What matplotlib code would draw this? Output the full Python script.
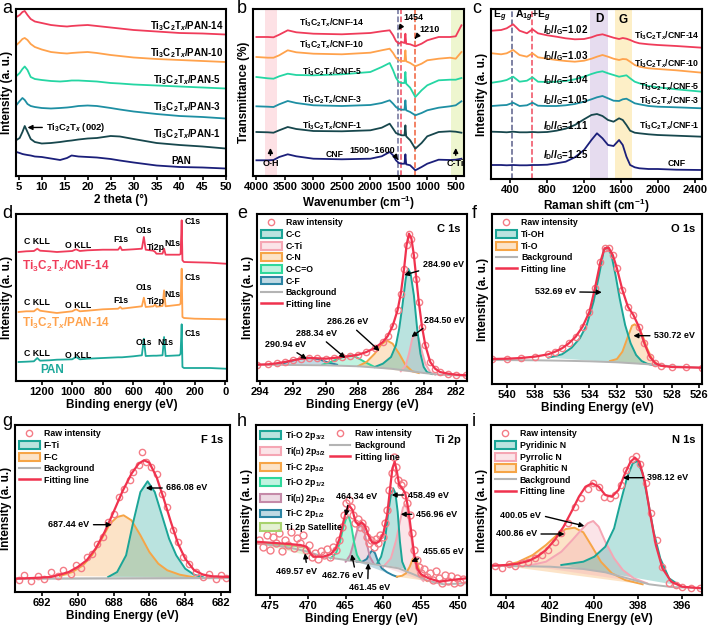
# %%
import matplotlib
matplotlib.use('Agg')
import matplotlib.pyplot as plt
from matplotlib.patches import Patch
from matplotlib.lines import Line2D
from matplotlib.colors import to_rgba

plt.rcParams['font.family'] = ['Liberation Sans', 'DejaVu Sans']
plt.rcParams['font.weight'] = 'bold'
plt.rcParams['axes.labelweight'] = 'bold'
plt.rcParams['mathtext.fontset'] = 'custom'
plt.rcParams['mathtext.rm'] = 'Liberation Sans:bold'
plt.rcParams['mathtext.it'] = 'Liberation Sans:bold:italic'
plt.rcParams['mathtext.bf'] = 'Liberation Sans:bold'

TI = r'Ti$_3$C$_2$T$_x$'

# %% data (intensities in arbitrary units)
# a: XRD
a_x = [4.5, 5.2, 5.8, 6.3, 6.9, 7.6, 8.5, 10, 12, 14, 15.5, 16.5, 18, 20, 22, 25, 27, 30, 35, 40, 45, 50]
a_pan = [24, 23, 22, 21.5, 21, 20.5, 19.5, 19, 17.5, 16, 18, 20.5, 19.5, 19, 18.5, 17, 15.5, 13.5, 10.5, 9, 8.5, 7.5]
a_pan1 = [36, 38, 44, 50, 44, 37, 34, 32.5, 33, 34, 35, 35.5, 36.5, 37.5, 38, 40, 39.5, 37, 33, 31, 29.5, 27.5]
a_pan3 = [71, 75, 78, 76, 72, 70, 69, 68, 67.5, 68, 68.5, 69, 70, 70.5, 70, 68, 66.5, 64.5, 62, 60, 59, 57.5]
a_pan5 = [100, 103, 107, 109.5, 106, 99, 97, 96, 95, 94.5, 95, 95.5, 95.5, 95, 94.5, 93, 92.5, 91.5, 90.5, 89.5, 88.5, 87.5]
a_pan10 = [131, 134, 137, 138, 136, 132, 129, 126.5, 124, 123, 122.5, 123, 123.5, 124, 123, 121, 120, 118.5, 117, 116, 115, 114]
a_pan14 = [159, 161, 164, 165, 161, 157, 154.5, 153, 151, 150, 149.5, 150, 150.5, 151, 150, 148.5, 147.5, 146, 144.5, 143, 142.5, 141.5]
a_names = [TI + '/PAN-14', TI + '/PAN-10', TI + '/PAN-5', TI + '/PAN-3', TI + '/PAN-1', 'PAN']

# b: FTIR
b_x = [4000, 3800, 3700, 3600, 3450, 3300, 3000, 2500, 2000, 1800, 1660, 1600, 1550, 1500, 1450, 1400, 1384, 1370,
       1300, 1210, 1100, 1000, 800, 600, 500, 400]
b_cnf = [15.7, 15.7, 16, 19, 21.7, 19.7, 17.3, 16.7, 17.3, 19.7, 24, 20.7, 15.7, 13, 12.3, 12.3, 21.7, 11.7, 10.7, 5.7,
         9, 12.3, 16.3, 16, 16.3, 17.3]
b_cnf1 = [44, 43.7, 43.3, 45.7, 49, 47, 45, 44.7, 45.7, 48.3, 52.3, 47.3, 43, 41.7, 40.7, 40.7, 50.7, 39.7, 35.7, 27.3,
          33, 39.7, 44, 44.7, 44.3, 43.3]
b_cnf3 = [69.7, 69.3, 69, 71.7, 75, 73, 70.7, 70, 71, 73, 75.7, 72.3, 69, 67, 66.3, 66.3, 75.7, 65.7, 64, 60.7,
          63, 65.7, 68.3, 69.7, 70.7, 74.7]
b_cnf5 = [99, 97.7, 97.3, 99.7, 102.3, 101, 100.7, 101.7, 104, 109, 113, 105.7, 98.3, 94, 93, 93, 104, 92.3, 88.3, 79,
          85.7, 90.7, 95.7, 96.3, 96.3, 98]
b_cnf10 = [119, 118.3, 118.3, 120.7, 125.7, 123.7, 122.3, 121.7, 123.3, 125.7, 127.3, 123, 118.3, 115.7, 115, 115,
           125.7, 114.7, 113, 109.7, 112.3, 115.7, 117.3, 118.3, 117.3, 124]
b_cnf14 = [139, 139, 138.7, 141.3, 145.7, 143.7, 142.3, 141.7, 143, 144.7, 145.7, 140.7, 135, 132.3, 134, 133, 142.3,
           132.3, 131.7, 129.7, 132.3, 135.7, 139, 139, 139.7, 150.7]
cnf_names = [TI + '/CNF-14', TI + '/CNF-10', TI + '/CNF-5', TI + '/CNF-3', TI + '/CNF-1', 'CNF']

# c: Raman
c_x = [200, 300, 360, 430, 500, 580, 640, 700, 800, 900, 1000, 1100, 1200, 1280, 1340, 1400, 1460, 1520, 1580, 1620,
       1660, 1700, 1750, 1800, 1900, 2000, 2200, 2480]
c_cnf = [14, 14, 13.7, 14, 13.7, 13.7, 14, 14, 14.3, 15.7, 17.3, 21.7, 29, 39, 45.7, 40.7, 34, 33, 39, 34,
         22.3, 14, 11.7, 10.7, 10, 10, 9.3, 9]
c_cnf1 = [47.3, 47, 46.7, 47.3, 46.7, 46.7, 47, 46.7, 47, 48.3, 50.3, 54, 59.7, 64, 65, 63, 59, 57.3, 60.7, 59,
          54, 48.3, 46.3, 45.7, 44.7, 44, 43.3, 42.3]
c_cnf3 = [73, 73.7, 74, 76.3, 73, 73.7, 76.3, 73.3, 73, 73, 73.7, 75, 77.3, 79.7, 81.7, 83, 80.7, 78.3, 78, 79.7,
          80.3, 78.3, 75.7, 74.7, 73, 72.3, 71.7, 70.7]
c_cnf5 = [96.3, 97.7, 99, 102.3, 97.3, 98.3, 101.7, 97.3, 97, 97.3, 98, 99.7, 102.3, 105, 106.7, 107.7, 105.7, 104,
          102.3, 103, 103.7, 100.7, 97.3, 95.7, 93, 91.7, 89.7, 87.3]
c_cnf10 = [125.7, 124.7, 125.7, 129, 124, 122.3, 125.7, 121.7, 120.3, 119, 118, 117.3, 118.3, 120.3, 122.3, 124,
           122.3, 120.3, 119, 120, 119.7, 117.3, 114, 112.3, 110.7, 110, 108.7, 106.3]
c_cnf14 = [148.3, 149, 150.7, 154.7, 148.3, 145.7, 149.7, 145.7, 143.7, 142.3, 140.7, 139.7, 140, 141.7, 143.7,
           144.7, 143, 141.3, 140, 141, 140.3, 139, 137, 135.7, 134.7, 134, 133, 131.3]
c_ratios = ['1.02', '1.03', '1.04', '1.05', '1.11', '1.25']

# d: XPS survey
d_x = [1350, 1300, 1250, 1228, 1210, 1150, 1100, 1000, 975, 950, 900, 800, 700, 686, 675, 600, 545, 532, 520, 470,
       458, 450, 410, 400, 390, 300, 292, 285, 280, 270, 200, 100, 0]
d_pan = [19, 19.3, 19.7, 23, 20.3, 20.7, 21.3, 21.7, 24, 21.7, 22.3, 23, 23.7, 23.7, 23.7, 24.7, 25.7, 42.3, 25, 25.3,
         25.3, 25.3, 25.7, 44, 25, 25.7, 27.3, 56.7, 14, 13, 13, 13, 12.3]
d_pan14 = [69, 69.7, 69.7, 72.3, 70.3, 69, 68, 69.7, 71.7, 69.7, 70.3, 71.7, 72.3, 74, 72.3, 73.7, 74.7, 83.3, 74, 74.7,
           76.7, 74.3, 75, 90.7, 74.7, 76.3, 77.3, 112.3, 64, 63, 62.3, 62, 61.7]
d_cnf14 = [129, 129.7, 130, 132.3, 130.3, 129.7, 129, 130, 131.7, 130, 130.7, 131.3, 131.3, 134.3, 131, 131.7, 132.3,
           144, 131.3, 130.3, 129, 127.3, 127.3, 132.3, 126.3, 126.3, 127, 160.7, 120.7, 119, 118.7, 118.3, 117.3]

# e: C 1s
e_x = [294.2, 293.5, 293, 292.5, 292, 291.5, 291, 290.5, 290, 289.5, 289, 288.5, 288, 287.5, 287, 286.5, 286.2, 285.9,
       285.6, 285.4, 285.2, 285.05, 284.9, 284.75, 284.6, 284.45, 284.3, 284.1, 283.9, 283.6, 283.3, 283, 282.5, 282, 281.4]
e_fit = [16.3, 16.7, 17.7, 19, 20.7, 22.3, 23, 22.7, 22.3, 23, 24, 25, 26.3, 29, 33, 39, 45, 55, 70.7, 87.3,
         112.3, 135.7, 147.3, 142.3, 125.7, 102.3, 79, 54, 35.7, 19, 12.3, 9, 7.3, 6.3, 5.7]
e_bg_x = [294.2, 292, 290, 288, 286, 285, 284, 283, 282, 281.4]
e_bg = [16.3, 16, 15.7, 14.7, 12.3, 10.3, 8, 6.3, 5.7, 5.3]
e_cc_x = [287, 286.5, 286, 285.7, 285.5, 285.3, 285.1, 284.95, 284.8, 284.6, 284.4, 284.2, 284, 283.8, 283.5]
e_cc = [14, 17.3, 24, 35.7, 52.3, 75.7, 102.3, 112.3, 107.3, 85.7, 52.3, 27.3, 14, 9, 7]
e_cti_x = [285.4, 285.1, 284.9, 284.7, 284.5, 284.3, 284.1, 283.9, 283.6, 283.3]
e_cti = [9.7, 15.7, 27.3, 42.3, 48.3, 42.3, 29, 17.3, 9, 6.3]
e_cn_x = [288, 287.5, 287, 286.6, 286.26, 285.9, 285.5, 285.1, 284.7, 284.3]
e_cn = [15, 19, 27.3, 36.3, 40.7, 37.3, 27.3, 15.7, 9.7, 8]
e_oco_x = [290.2, 289.6, 289, 288.5, 288.1, 287.6, 287]
e_oco = [16.3, 19.7, 23.7, 25.7, 23.7, 19, 14]
e_cf_x = [292.8, 292.2, 291.6, 291, 290.4, 289.8, 289.3]
e_cf = [16.7, 19.7, 22.3, 23.3, 21.7, 18.3, 16.3]

# f: O 1s
f_x = [541.1, 540, 539, 538, 537, 536.5, 536, 535.5, 535, 534.5, 534, 533.6, 533.2, 532.9, 532.6, 532.3, 532, 531.6,
       531.2, 530.8, 530.4, 530, 529.6, 529.2, 528.8, 528, 527, 525.8]
f_fit = [25, 25.3, 26, 27.3, 29.7, 32.3, 35.7, 40.7, 47.3, 57.3, 72.3, 95.7, 122.3, 135.7, 136.3, 129, 115.7, 94,
         77.3, 69, 57.3, 40.7, 27.3, 20.7, 18.3, 17, 16.7, 16.3]
f_bg_x = [541.1, 538, 536, 534, 532, 530, 528, 525.8]
f_bg = [24, 23.7, 23.3, 22.7, 21.7, 20, 17.7, 16.3]
f_oh_x = [537, 536, 535.3, 534.7, 534.2, 533.7, 533.3, 532.95, 532.7, 532.4, 532.1, 531.8, 531.4, 531, 530.6, 530.2,
          529.8, 529.4]
f_oh = [26.3, 29.7, 36.3, 45.7, 59, 82.3, 109, 134, 137.3, 129, 109, 85.7, 59, 40.7, 29, 23, 20.3, 19]
f_tio_x = [532.5, 532, 531.6, 531.2, 530.9, 530.7, 530.4, 530.1, 529.8, 529.4, 529, 528.5]
f_tio = [23, 25, 32.3, 47.3, 58.3, 59.7, 56.3, 47.3, 35.7, 24, 19, 17.3]

# g: F 1s
g_x = [693.5, 692.5, 691.5, 691, 690.5, 690, 689.5, 689, 688.5, 688, 687.5, 687, 686.6, 686.3, 686, 685.6, 685.2,
       684.8, 684.4, 684, 683.5, 683, 682.5, 681.5]
g_fit = [13.3, 14, 15, 17.3, 20, 25, 31.7, 43.3, 60, 80, 100.7, 118.3, 128.3, 131.7, 129.3, 115, 93.3, 70, 48.3,
         33.3, 21.7, 17.3, 15.7, 15]
g_bg_x = [693.5, 681.5]
g_bg = [13.3, 14]
g_fti_x = [688.3, 687.8, 687.3, 686.9, 686.5, 686.1, 685.7, 685.3, 684.9, 684.5, 684, 683.5, 683]
g_fti = [15, 20, 36.7, 70, 100, 110.7, 100, 76.7, 53.3, 36.7, 23.3, 17.3, 14.7]
g_fc_x = [691, 690.3, 689.7, 689.2, 688.7, 688.2, 687.8, 687.44, 687, 686.5, 686, 685.5, 685, 684.3, 683.5]
g_fc = [16, 20, 26.7, 36.7, 51.7, 68.3, 75, 76.7, 71.7, 56.7, 40, 28.3, 21.7, 17.3, 14.7]
g_raw_x = [693.3, 693, 692.6, 692.2, 691.9, 691.5, 691.1, 690.8, 690.4, 690.1, 689.8, 689.5, 689.2, 688.9, 688.6,
           688.3, 688, 687.7, 687.4, 687.1, 686.9, 686.6, 686.4, 686.2, 685.9, 685.6, 685.3, 685, 684.7, 684.4,
           684.1, 683.8, 683.4, 683, 682.7, 682.3, 682, 681.7, 681.4]
g_raw = [12, 17, 11, 16, 13, 20, 16, 22, 18, 27, 24, 35, 38, 48, 55, 70, 78, 95, 103, 112, 120, 127, 140, 130, 125,
         118, 98, 85, 62, 50, 35, 28, 20, 15, 18, 13, 17, 14, 16]

# h: Ti 2p
h_x = [476.9, 475, 473, 471, 470.2, 469.7, 469.3, 468, 467, 466.3, 465.8, 465.3, 464.9, 464.5, 464.1, 463.7, 463.3,
       462.9, 462.5, 462, 461.5, 461, 460.5, 460, 459.5, 459.1, 458.8, 458.5, 458.2, 457.9, 457.5, 457.1, 456.7,
       456.3, 455.9, 455.5, 455, 454, 452.5, 451, 449]
h_fit = [53.3, 52.3, 51.3, 50, 48.3, 41.7, 38.3, 38.3, 40.7, 46.7, 56.7, 73.3, 85, 89.3, 85, 73.3, 70, 72.7, 70, 60,
         52.7, 51.7, 54, 61.7, 80, 106.7, 126.7, 133.3, 123.3, 110, 106.7, 101.7, 86.7, 63.3, 40, 26.7, 20.7, 16.7,
         13.3, 15, 16.7]
h_bg_x = [476.9, 473, 470, 468, 465, 462, 460, 458, 456, 454, 452, 449]
h_bg = [51.7, 48.3, 43.3, 38.3, 35, 31.7, 29.3, 26.7, 20.7, 14, 10.7, 11.7]
h_tio32_x = [460.8, 460.3, 459.8, 459.4, 459, 458.7, 458.4, 458.1, 457.8, 457.5, 457.1]
h_tio32 = [31.7, 38.3, 53.3, 80, 100, 106.7, 101.7, 83.3, 53.3, 33.3, 26]
h_ti2_32_x = [460, 459, 458.3, 457.8, 457.4, 457.1, 456.8, 456.4, 456, 455.6, 455.2, 454.7]
h_ti2_32 = [28.3, 36.7, 55, 73.3, 87.3, 90.7, 85, 63.3, 40, 26.7, 18.3, 14]
h_tic32_x = [458.2, 457.5, 457, 456.5, 456.1, 455.8, 455.5, 455.2, 454.8, 454.2]
h_tic32 = [18.3, 19.3, 21.7, 28.3, 36, 38.3, 33.3, 23.3, 17.3, 14]
h_tio12_x = [467, 466.3, 465.8, 465.3, 464.9, 464.6, 464.3, 463.9, 463.5, 463]
h_tio12 = [36.7, 41.7, 51.7, 68.3, 77.3, 78.3, 71.7, 53.3, 40, 33.3]
h_ti2_12_x = [465, 464.4, 463.9, 463.4, 463, 462.6, 462.2, 461.8, 461.3]
h_ti2_12 = [33.3, 40, 53.3, 66.7, 70, 66.7, 51.7, 38.3, 31.7]
h_tic12_x = [463.5, 462.8, 462.2, 461.8, 461.45, 461.1, 460.7, 460.2, 459.5, 458.8, 458.2]
h_tic12 = [33.3, 33.3, 36, 41.7, 45, 41.7, 33.3, 26.7, 22.7, 20, 18.3]
h_sat_x = [476.9, 474, 472, 470.5, 469.9, 469.6, 469.3]
h_sat = [51.7, 50.7, 49.3, 48, 46.7, 40.7, 38.3]
h_raw_x = [476.5, 476, 475.5, 475.1, 474.7, 474.3, 473.9, 473.5, 473.1, 472.7, 472.3, 471.9, 471.5, 471.1, 470.7,
           470.3, 469.9, 469.5, 469.1, 468.7, 468.3, 467.9, 467.5, 467.1, 466.7, 466.3, 465.9, 465.5, 465.2, 464.9,
           464.6, 464.3, 464, 463.7, 463.4, 463.1, 462.8, 462.5, 462.2, 461.9, 461.6, 461.3, 461, 460.7, 460.4,
           460.1, 459.8, 459.5, 459.2, 458.9, 458.6, 458.3, 458, 457.7, 457.4, 457.1, 456.8, 456.5, 456.2, 455.9,
           455.6, 455.3, 455, 454.6, 454.2, 453.8, 453.4, 453, 452.6, 452.2, 451.8, 451.4, 451, 450.6, 450.2,
           449.8, 449.4]
h_raw = [55, 48, 60, 45, 58, 52, 62, 44, 55, 50, 63, 47, 57, 52, 60, 45, 50, 38, 42, 36, 44, 40, 46, 38, 48, 45, 55,
         68, 80, 92, 95, 88, 80, 72, 76, 68, 72, 66, 58, 52, 55, 48, 56, 52, 60, 58, 72, 85, 105, 122, 138, 128, 115,
         110, 112, 100, 92, 80, 62, 45, 35, 28, 22, 26, 18, 22, 15, 24, 17, 12, 20, 14, 19, 12, 17, 13, 16]

# i: N 1s
i_x = [404.7, 404, 403.5, 403, 402.6, 402.2, 401.8, 401.4, 401, 400.7, 400.4, 400.1, 399.8, 399.5, 399.2, 398.9,
       398.6, 398.35, 398.15, 397.95, 397.7, 397.45, 397.2, 396.9, 396.5, 396, 395.1]
i_fit = [29.3, 30, 31.3, 34, 38.3, 45, 55, 68.3, 85, 98.3, 108.3, 111.7, 108.3, 100, 98.3, 105, 121.7, 133.3, 137.3,
         133.3, 113.3, 80, 50, 26.7, 13.3, 8.3, 6.7]
i_bg_x = [404.7, 402, 400.5, 399.5, 398.5, 397.5, 396.5, 395.1]
i_bg = [29.3, 28.3, 26, 22.7, 16.7, 10.7, 8, 6.7]
i_pyd_x = [401.5, 400.5, 400, 399.5, 399.1, 398.8, 398.5, 398.25, 398.05, 397.8, 397.55, 397.3, 397, 396.6, 396.1]
i_pyd = [30, 33.3, 38.3, 48.3, 66.7, 93.3, 118.3, 131.7, 134, 121.7, 93.3, 63.3, 36.7, 16.7, 9.3]
i_pyr_x = [403, 402.2, 401.5, 401, 400.6, 400.3, 400.05, 399.8, 399.5, 399.1, 398.7, 398.2, 397.6]
i_pyr = [29.3, 33.3, 43.3, 55, 65, 71.7, 74, 68.3, 53.3, 36.7, 25, 16.7, 11.7]
i_gra_x = [404.2, 403.5, 402.8, 402.2, 401.7, 401.3, 400.9, 400.5, 400.1, 399.7, 399.2, 398.6, 397.8]
i_gra = [29.3, 32.7, 40, 50, 60, 66, 67.3, 62.7, 48.3, 33.3, 21.7, 15, 10.7]
i_raw_x = [404.5, 404.2, 403.9, 403.6, 403.3, 403, 402.7, 402.4, 402.1, 401.8, 401.5, 401.2, 400.9, 400.6, 400.3,
           400.05, 399.8, 399.55, 399.3, 399.05, 398.8, 398.55, 398.3, 398.1, 397.9, 397.65, 397.4, 397.15, 396.9,
           396.6, 396.3, 396, 395.6, 395.2]
i_raw = [29, 27, 31, 29, 32, 33, 37, 40, 45, 53, 62, 72, 88, 97, 106, 112, 108, 98, 97, 100, 110, 125, 136, 139, 131,
         112, 82, 55, 28, 12, 10, 8, 7, 7]

# %% styling
C14, C10, C5, C3, C1, C0 = '#f03c5a', '#ffa24c', '#25d6a3', '#1e8fa3', '#17474d', '#1b1f7a'
FIT, RAW, BG = '#f0324e', '#f47c86', '#b4b4b4'
TEAL, PINK, ORANGE, GREEN, BLUE, MAUVE, SAT = '#1ba597', '#f5a6b4', '#f6a547', '#2fd89b', '#2b84a3', '#c58aa8', '#a8d26e'
ARROW = dict(arrowstyle='-|>', color='k', lw=1.0, mutation_scale=7, shrinkA=1, shrinkB=0)

W, H = 709, 628
fig = plt.figure(figsize=(W / 100, H / 100), dpi=100)


def panel(l, t, r, b, xlim, xticks, xlabel, ylabel='Intensity (a. u.)'):
    ax = fig.add_axes([l / W, 1 - b / H, (r - l) / W, (b - t) / H])
    ax.set_xlim(*xlim)
    ax.set_ylim(0, b - t)
    ax.set_xticks(xticks)
    ax.set_yticks([])
    for s in ax.spines.values():
        s.set_linewidth(1.5)
    ax.tick_params(axis='x', direction='out', length=3, width=1.2, labelsize=8, pad=1.5)
    ax.set_xlabel(xlabel, fontsize=8.5, labelpad=1)
    ax.set_ylabel(ylabel, fontsize=8.5, labelpad=2)
    return ax


def note(ax, text, xytext, xy=None, fs=6.5, relpos=(0.5, 0.5), ha='center', **kw):
    if xy is None:
        ax.text(*xytext, text, fontsize=fs, fontweight='bold', ha=ha, va='center', **kw)
    else:
        ax.annotate(text, xy=xy, xytext=xytext, fontsize=fs, fontweight='bold', ha=ha, va='center',
                    arrowprops=dict(ARROW, relpos=relpos), **kw)


def component(ax, x, y, color, lw=1.4):
    ax.fill(x, y, color=to_rgba(color, 0.3), lw=0)
    ax.plot(x, y, color=color, lw=lw)


def comp_handle(color):
    return Patch(facecolor=to_rgba(color, 0.3), edgecolor=color, lw=1.5)


raw_h = Line2D([], [], marker='o', ls='none', mfc='none', mec=RAW, ms=4.5, mew=1)
bg_h = Line2D([], [], color=BG, lw=1.5)
fit_h = Line2D([], [], color=FIT, lw=1.8)
LEG = dict(loc='upper left', frameon=False, fontsize=6.3, handlelength=2.3, handleheight=1.0,
           labelspacing=0.3, borderaxespad=0.3, handletextpad=0.5, borderpad=0.2)

# %% a
ax = panel(16, 9, 226, 176, (4.4, 50.1), range(5, 51, 5), '2 theta (°)')
for ys, col in zip([a_pan14, a_pan10, a_pan5, a_pan3, a_pan1, a_pan], [C14, C10, C5, C3, C1, C0]):
    ax.plot(a_x, ys, color=col, lw=1.3)
for name, y in zip(a_names, [150, 123.3, 96, 68.7, 42, 15]):
    note(ax, name, (40.3 if name == 'PAN' else 41.5, y), fs=7)
note(ax, TI + ' (002)', (17.5, 48.7), (6.9, 48.5), fs=6.8)

# %% b
ax = panel(253, 9, 464, 176, (4060, 355), range(4000, 499, -500), 'Wavenumber (cm$^{-1}$)',
           'Transmittance (%)')
ax.axvspan(3854, 3637, color='#fde1e5', lw=0)
ax.axvspan(588, 355, color='#eef6cf', lw=0)
ax.axvline(1515, color='#6b6f9a', ls='--', lw=1.1)
ax.axvline(1454, color='#f04a5e', ls='--', lw=1.1)
ax.axvline(1210, color='#f0603a', ls='--', lw=1.1)
for ys, col in zip([b_cnf14, b_cnf10, b_cnf5, b_cnf3, b_cnf1, b_cnf], [C14, C10, C5, C3, C1, C0]):
    ax.plot(b_x, ys, color=col, lw=1.3)
for name, y in zip(cnf_names, [153, 131.3, 104.7, 76.7, 50, 21.7]):
    note(ax, name, (2624 if name == 'CNF' else 2683, y), fs=6.2)
note(ax, 'O-H', (3754, 12), (3754, 28))
note(ax, 'C-Ti', (500, 12), (500, 28))
note(ax, '1454', (1250, 158), (1505, 146), relpos=(0.1, 0.2))
note(ax, '1210', (962, 146.3), (1219, 137.3), relpos=(0.05, 0.2))
note(ax, '1500~1600', (1970, 25), (1512, 16.3), relpos=(0.95, 0.3))

# %% c
ax = panel(491, 9, 702, 179, (190, 2480), range(400, 2401, 400), 'Raman shift (cm$^{-1}$)')
ax.axvspan(1265, 1463, color='#e6dcef', lw=0)
ax.axvspan(1535, 1715, color='#fdefc7', lw=0)
ax.axvline(418, color='#5a5f8a', ls='--', lw=1.1)
ax.axvline(634, color='#f04a5e', ls='--', lw=1.1)
for ys, col in zip([c_cnf14, c_cnf10, c_cnf5, c_cnf3, c_cnf1, c_cnf], [C14, C10, C5, C3, C1, C0]):
    ax.plot(c_x, ys, color=col, lw=1.3)
for name, y in zip(cnf_names, [143.3, 115.7, 92, 78.5, 53, 15.7]):
    note(ax, name, (2200 if name == 'CNF' else 2455, y), fs=6.3, ha='center' if name == 'CNF' else 'right')
for r, y in zip(c_ratios, [149, 123.3, 99, 79, 53, 24]):
    note(ax, r'$I_\mathrm{D}/I_\mathrm{G}$=' + r, (1000, y), fs=7)
note(ax, 'E$_g$', (285, 163), fs=7.5)
note(ax, 'A$_{1g}$+E$_g$', (645, 163), fs=7.5)
note(ax, 'D', (1362, 159.5), fs=8.5)
note(ax, 'G', (1625, 159), fs=8.5)

# %% d
ax = panel(16, 214, 227, 381, (1367, -11), range(1200, -1, -200), 'Binding energy (eV)')
for ys, col in zip([d_cnf14, d_pan14, d_pan], [C14, C10, '#1da99b']):
    ax.plot(d_x, ys, color=col, lw=1.3)
d_peaks = ['C KLL', 'O KLL', 'F1s', 'O1s', 'Ti2p', 'N1s', 'C1s']
d_pos = [1233, 961, 684, 532, 452, 343, 213]
for yrow in [(139, 135, 141.7, 150.7, 134, 137, 159), (78.3, 75.7, 80.7, 93, 79, 86.3, 104),
             (27.3, 25.7, None, 38.3, None, 38.3, 48)]:
    for name, x, y in zip(d_peaks, d_pos, yrow):
        if y is not None:
            note(ax, name, (392 if (name == 'N1s' and y == 38.3) else x, y), fs=6.3)
ax.text(1330, 114.7, TI + '/CNF-14', color=C14, fontsize=8.5, fontweight='bold', ha='left', va='center')
ax.text(1330, 57.3, TI + '/PAN-14', color=C10, fontsize=8.5, fontweight='bold', ha='left', va='center')
ax.text(1211, 11.3, 'PAN', color='#1da99b', fontsize=8.5, fontweight='bold', ha='left', va='center')

# %% e
ax = panel(257, 214, 467, 381, (294.2, 281.35), range(294, 281, -2), 'Binding Energy (eV)')
for x, y, col in [(e_cf_x, e_cf, BLUE), (e_oco_x, e_oco, GREEN), (e_cn_x, e_cn, ORANGE),
                  (e_cti_x, e_cti, PINK), (e_cc_x, e_cc, TEAL)]:
    component(ax, x, y, col)
ax.plot(e_bg_x, e_bg, color=BG, lw=1.4)
ax.plot(e_x, e_fit, 'o', mfc='none', mec=RAW, ms=4.5, mew=1)
ax.plot(e_x, e_fit, color=FIT, lw=1.6)
ax.legend([raw_h] + [comp_handle(c) for c in [TEAL, PINK, ORANGE, GREEN, BLUE]] + [bg_h, fit_h],
          ['Raw intensity', 'C-C', 'C-Ti', 'C-N', 'O-C=O', 'C-F', 'Background', 'Fitting line'], **LEG)
ax.text(0.97, 0.94, 'C 1s', transform=ax.transAxes, ha='right', va='top', fontsize=8)
note(ax, '284.90 eV', (282.8, 116.3), (285.2, 106), relpos=(0.2, 0.2))
note(ax, '284.50 eV', (282.73, 60.7), (284.75, 44), relpos=(0.15, 0.2))
note(ax, '286.26 eV', (288.67, 59), (286.7, 30), relpos=(0.6, 0.1))
note(ax, '288.34 eV', (290.54, 47.3), (288.8, 23), relpos=(0.6, 0.1))
note(ax, '290.94 eV', (292.43, 36.3), (291.15, 22), relpos=(0.6, 0.1))

# %% f
ax = panel(492, 214, 702, 384, (541.1, 525.8), range(540, 525, -2), 'Binding Energy (eV)')
component(ax, f_tio_x, f_tio, ORANGE)
component(ax, f_oh_x, f_oh, TEAL)
ax.plot(f_bg_x, f_bg, color=BG, lw=1.4)
ax.plot(f_x, f_fit, 'o', mfc='none', mec=RAW, ms=4.5, mew=1)
ax.plot(f_x, f_fit, color=FIT, lw=1.6)
ax.legend([raw_h, comp_handle(TEAL), comp_handle(ORANGE), bg_h, fit_h],
          ['Raw intensity', 'Ti-OH', 'Ti-O', 'Background', 'Fitting line'], **LEG)
ax.text(0.97, 0.94, 'O 1s', transform=ax.transAxes, ha='right', va='top', fontsize=8)
note(ax, '532.69 eV', (536.5, 92.3), (533.1, 91.7))
note(ax, '530.72 eV', (527.8, 48.3), (530.8, 48.3))

# %% g
ax = panel(15, 425, 230, 592, (693.5, 681.5), range(692, 681, -2), 'Binding Energy (eV)')
component(ax, g_fc_x, g_fc, ORANGE)
component(ax, g_fti_x, g_fti, TEAL)
ax.plot(g_bg_x, g_bg, color=BG, lw=1.6)
ax.plot(g_raw_x, g_raw, 'o', mfc='none', mec=RAW, ms=4.5, mew=1)
ax.plot(g_x, g_fit, color=FIT, lw=1.6)
ax.legend([raw_h, comp_handle(TEAL), comp_handle(ORANGE), bg_h, fit_h],
          ['Raw intensity', 'F-Ti', 'F-C', 'Background', 'Fitting line'], **LEG)
ax.text(0.97, 0.94, 'F 1s', transform=ax.transAxes, ha='right', va='top', fontsize=8)
note(ax, '686.08 eV', (683.9, 104), (686.2, 104))
note(ax, '687.44 eV', (690.5, 67.3), (688.1, 67.3))

# %% h
ax = panel(256, 425, 467, 595, (476.9, 448.9), range(475, 449, -5), 'Binding Energy (eV)')
component(ax, h_sat_x, h_sat, SAT)
for x, y, col in [(h_tic12_x, h_tic12, BLUE), (h_ti2_12_x, h_ti2_12, MAUVE), (h_tio12_x, h_tio12, GREEN),
                  (h_tic32_x, h_tic32, ORANGE), (h_ti2_32_x, h_ti2_32, PINK), (h_tio32_x, h_tio32, TEAL)]:
    component(ax, x, y, col)
ax.plot(h_bg_x, h_bg, color=BG, lw=1.4)
ax.plot(h_raw_x, h_raw, 'o', mfc='none', mec=RAW, ms=5, mew=1)
ax.plot(h_x, h_fit, color=FIT, lw=1.6)
leg1 = ax.legend([comp_handle(c) for c in [TEAL, PINK, ORANGE, GREEN, MAUVE, BLUE, SAT]],
                 ['Ti-O 2p$_{3/2}$', 'Ti(Ⅱ) 2p$_{3/2}$', 'Ti-C 2p$_{3/2}$', 'Ti-O 2p$_{1/2}$',
                  'Ti(Ⅱ) 2p$_{1/2}$', 'Ti-C 2p$_{1/2}$', 'Ti 2p Satellite'], **LEG)
ax.add_artist(leg1)
ax.legend([raw_h, bg_h, fit_h], ['Raw intensity', 'Background', 'Fitting line'],
          bbox_to_anchor=(0.33, 1.0), **LEG)
ax.text(0.97, 0.94, 'Ti 2p', transform=ax.transAxes, ha='right', va='top', fontsize=8)
note(ax, '464.34 eV', (463.5, 98.3), (465.0, 79), relpos=(0.3, 0.1))
note(ax, '458.49 eV', (454.05, 100), (458.9, 100))
note(ax, '456.96 eV', (452.95, 80.7), (457.7, 80.7))
note(ax, '455.65 eV', (452.1, 44), (456.3, 33.3), relpos=(0.2, 0.2))
note(ax, '469.57 eV', (471.5, 24), (470.4, 41.7), relpos=(0.75, 0.9))
note(ax, '462.76 eV', (465.35, 19.3), (464.2, 40.7), relpos=(0.8, 0.9))
note(ax, '461.45 eV', (461.8, 7.7), (462.0, 31.7), relpos=(0.45, 0.9))

# %% i
ax = panel(491, 425, 702, 595, (404.7, 395.1), range(404, 395, -2), 'Binding Energy (eV)')
for x, y, col in [(i_gra_x, i_gra, ORANGE), (i_pyr_x, i_pyr, PINK), (i_pyd_x, i_pyd, TEAL)]:
    component(ax, x, y, col)
ax.plot(i_bg_x, i_bg, color=BG, lw=1.4)
ax.plot(i_raw_x, i_raw, 'o', mfc='none', mec=RAW, ms=4.5, mew=1)
ax.plot(i_x, i_fit, color=FIT, lw=1.6)
ax.legend([raw_h, comp_handle(TEAL), comp_handle(PINK), comp_handle(ORANGE), bg_h, fit_h],
          ['Raw intensity', 'Pyridinic N', 'Pyrrolic N', 'Graphitic N', 'Background', 'Fitting line'], **LEG)
ax.text(0.97, 0.94, 'N 1s', transform=ax.transAxes, ha='right', va='top', fontsize=8)
note(ax, '400.05 eV', (403.34, 80), (400.45, 69), relpos=(0.95, 0.5))
note(ax, '400.86 eV', (403.55, 61), (401.35, 61))
note(ax, '398.12 eV', (396.65, 117.3), (398.7, 117.3))

# %% panel letters
for letter, (px, py) in zip('abcdefghi', [(2, 0), (237, 0), (472, 0), (2, 205), (237, 205), (472, 205),
                                          (2, 413), (237, 413), (472, 413)]):
    fig.text(px / W, 1 - py / H, letter, fontsize=13, fontweight='normal', ha='left', va='top')

fig.savefig('out.png', dpi=100)
